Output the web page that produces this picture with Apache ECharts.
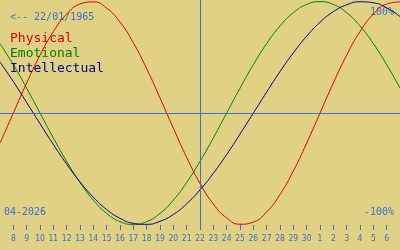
<!DOCTYPE html>
<html><head><meta charset="utf-8">
<script src="https://cdn.jsdelivr.net/npm/echarts@6/dist/echarts.min.js"></script>
<style>html,body{margin:0;padding:0;background:#e0d184}#c{width:400px;height:250px}</style>
</head><body><div id="c"></div>
<script>
// Day numbers counted from 1 April 2026 (31..37 = 1..7 May)
const days = [7,8,9,10,11,12,13,14,15,16,17,18,19,20,21,22,23,24,25,26,27,28,29,30,31,32,33,34,35,36,37];
const physical = [-0.270,0,0.270,0.520,0.731,0.888,0.979,0.998,0.942,0.817,0.631,0.398,0.136,-0.136,-0.398,-0.631,-0.817,-0.942,-0.998,-0.979,-0.888,-0.731,-0.520,-0.270,0,0.270,0.520,0.731,0.888,0.979,0.998];
const emotional = [0.623,0.434,0.223,0,-0.223,-0.434,-0.623,-0.782,-0.901,-0.975,-1,-0.975,-0.901,-0.782,-0.623,-0.434,-0.223,0,0.223,0.434,0.623,0.782,0.901,0.975,1,0.975,0.901,0.782,0.623,0.434,0.223];
const intellectual = [0.458,0.282,0.095,-0.095,-0.282,-0.458,-0.618,-0.756,-0.866,-0.945,-0.990,-0.999,-0.972,-0.910,-0.815,-0.690,-0.541,-0.372,-0.189,0,0.189,0.372,0.541,0.690,0.815,0.910,0.972,0.999,0.990,0.945,0.866];
const tickDays = [8,9,10,11,12,13,14,15,16,17,18,19,20,21,22,23,24,25,26,27,28,29,30,31,32,33,34,35,36];
const tickLabels = ['8','9','10','11','12','13','14','15','16','17','18','19','20','21','22','23','24','25','26','27','28','29','30','1','2','3','4','5','6'];
const seriesNames = ['Physical','Emotional','Intellectual'];
const selectedDay = 22;
const birthText = '<-- 22/01/1965';
const monthText = '04-2026';
const topText = '100%';
const bottomText = '-100%';

const BLUE = '#3a72c4';
const colors = ['#e00000','#008000','#000080'];
const FONT = 'DejaVu Sans Mono';
const chart = echarts.init(document.getElementById('c'), null, {renderer:'canvas'});
const vals = [physical, emotional, intellectual];
chart.setOption({
  backgroundColor: '#e0d184',
  animation: false,
  grid: {left:0, right:0, top:0, bottom:25},
  xAxis: {
    type:'value', min:7, max:37,
    axisLine:{show:false, onZero:false}, splitLine:{show:false},
    axisTick:{show:true, customValues: tickDays, length:5, lineStyle:{color:BLUE, width:1}},
    axisLabel:{show:true, customValues: tickDays, margin:9, color:BLUE, fontFamily:'DejaVu Sans Condensed, DejaVu Sans', fontSize:8.5,
      formatter: v => tickLabels[tickDays.indexOf(Math.round(v))] || ''}
  },
  yAxis: {type:'value', min:-1.005, max:1.015, show:false},
  legend: {
    orient:'vertical', left:0, top:27, itemGap:2, itemWidth:0, itemHeight:0, icon:'none',
    selectedMode:false,
    textStyle:{fontFamily:FONT, fontSize:13, padding:0},
    data: seriesNames.map((n,i)=>({name:n, textStyle:{color:colors[i]}}))
  },
  graphic: [
    {type:'text', left:10, top:12, style:{text:birthText, fill:BLUE, font:'10px "DejaVu Sans Mono"'}},
    {type:'text', right:6, top:7, style:{text:topText, fill:BLUE, font:'10px "DejaVu Sans Mono"'}},
    {type:'text', right:6, top:207, style:{text:bottomText, fill:BLUE, font:'10px "DejaVu Sans Mono"'}},
    {type:'text', left:4, top:207, style:{text:monthText, fill:BLUE, font:'10px "DejaVu Sans Mono"'}}
  ],
  series: seriesNames.map((n,i)=>({
    name:n, type:'line', smooth:true, symbol:'none', silent:true,
    lineStyle:{color:colors[i], width:1}, itemStyle:{color:colors[i]},
    data: days.map((d,j)=>[d, vals[i][j]]),
    markLine: i===0 ? {silent:true, symbol:'none', label:{show:false},
      lineStyle:{color:BLUE, width:1, type:'solid'},
      data:[{yAxis:0},{xAxis:selectedDay}]} : undefined
  }))
});
</script></body></html>
